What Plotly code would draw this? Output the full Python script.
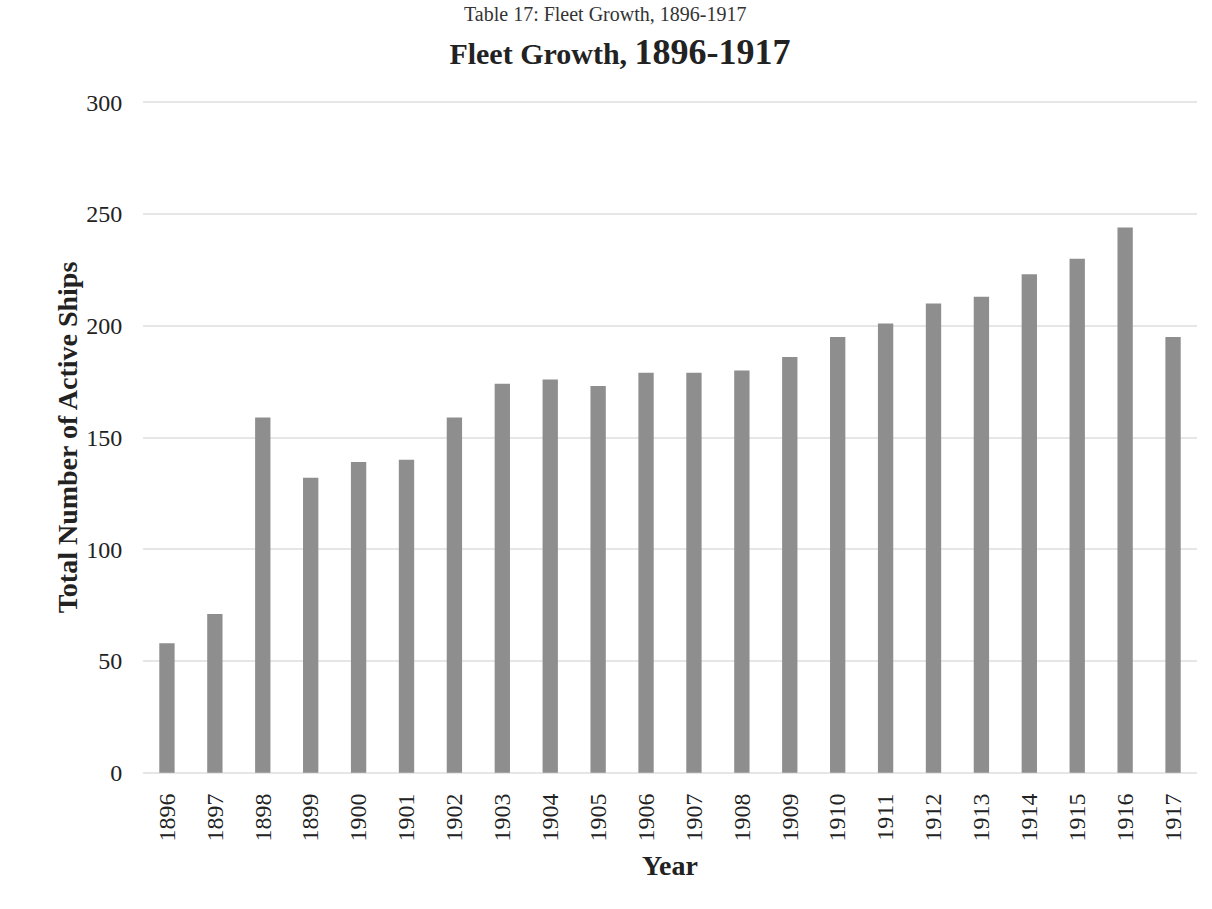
import plotly.graph_objects as go

years = [str(y) for y in range(1896, 1918)]
ships = [58, 71, 159, 132, 139, 140, 159, 174, 176, 173, 179, 179, 180, 186, 195, 201, 210, 213, 223, 230, 244, 195]
y_ticks = [0, 50, 100, 150, 200, 250, 300]

FONT = "Liberation Serif, Times New Roman, serif"

fig = go.Figure(go.Bar(x=years, y=ships, marker=dict(color="#8e8e8e", line=dict(width=0))))

fig.update_layout(
    width=1212, height=909,
    margin=dict(l=143, r=15, t=100, b=134),
    paper_bgcolor="white", plot_bgcolor="white",
    bargap=0.68,
    showlegend=False,
    font=dict(family=FONT, color="#222222", size=24),
    title=dict(
        text="<b>Fleet Growth, <span style='font-size:36px'>1896-1917</span></b>",
        x=620 / 1212, xref="container", xanchor="center",
        y=1 - 53 / 909, yref="container", yanchor="middle",
        font=dict(family=FONT, size=30, color="#222222"),
    ),
    annotations=[dict(
        text="Table 17: Fleet Growth, 1896-1917", xref="paper", yref="paper",
        x=0.438, y=1 + 99 / 675, xanchor="center", yanchor="top", showarrow=False,
        font=dict(family=FONT, size=20, color="#333333"),
    )],
    xaxis=dict(
        type="category", tickangle=-90, showgrid=False, showline=False,
        ticks="outside", ticklen=8, tickcolor="rgba(0,0,0,0)",
        tickfont=dict(family=FONT, size=24, color="#222222"),
        title=dict(text="<b>Year</b>", font=dict(family=FONT, size=28, color="#222222"), standoff=14),
    ),
    yaxis=dict(
        range=[-1, 301], tickvals=y_ticks, showline=False, zeroline=False,
        showgrid=True, gridcolor="#e6e6e6", gridwidth=1.5,
        ticks="outside", ticklen=15, tickcolor="rgba(0,0,0,0)",
        tickfont=dict(family=FONT, size=24, color="#222222"),
        title=dict(text="<b>Total Number of Active Ships</b>", font=dict(family=FONT, size=28, color="#222222"), standoff=0),
    ),
)

fig.write_html("out.html")
